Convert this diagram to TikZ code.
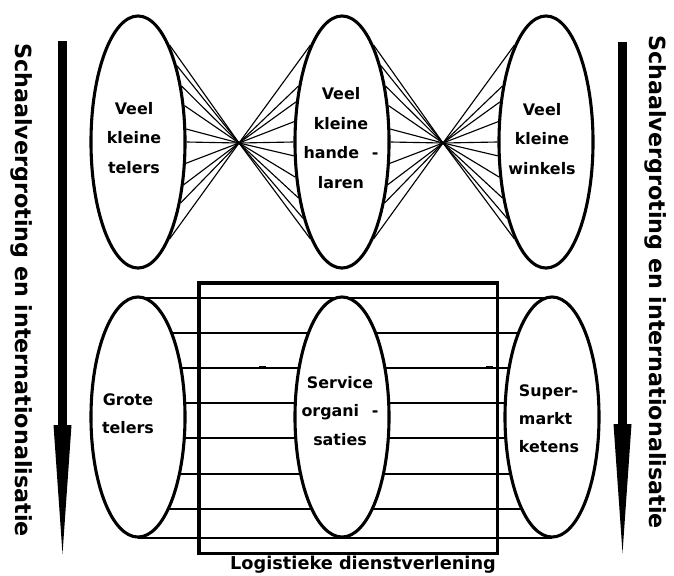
\documentclass[tikz,border=0pt]{standalone}
\usepackage{fontspec}
\setmainfont{DejaVu Sans}
\usepackage{tikz}
\usetikzlibrary{shapes,arrows,arrows.meta,positioning,backgrounds}
\tikzset{>=stealth'}

\begin{document}
\begin{tikzpicture}[x=0.025cm, y=-0.025cm,
                    kring/.style={ellipse, draw, line width=2.2pt, fill=white, inner sep=0pt, minimum width=2.35cm},
                    boven/.style={kring, minimum height=6.3cm},
                    onder/.style={kring, minimum height=6.0cm},
                    tekst/.style={font=\bfseries\fontsize{11.3}{21}\selectfont, align=center, inner sep=0pt},
                    tekstonder/.style={tekst, font=\bfseries\fontsize{11.3}{20}\selectfont},
                    waaier/.style={line width=0.8pt},
                    streep/.style={line width=0.8pt},
                    kader/.style={draw, line width=2.2pt, inner sep=0pt, minimum width=7.45cm, minimum height=6.75cm},
                    pijl/.style={line width=6.4pt, -{Triangle[length=91.7pt, width=12.8pt, line width=0pt]}},
                    zij/.style={font=\bfseries\fontsize{15.8}{18}\selectfont, rotate=-90, inner sep=0pt},
                   ]

\useasboundingbox (0,0) rectangle (674,575);

% bovenste rij
\node[boven] (telers) at (138,142) {};
\node[boven] (handelaren) at (342,142) {};
\node[boven] (winkels) at (546,142) {};

\coordinate (kruisA) at (239,143);
\coordinate (kruisB) at (443,143);

\foreach \a in {72,63,52,38,15,0,-24,-43,-55,-72}{
  \draw[waaier] (kruisA) -- (telers.\a);
  \draw[waaier] (kruisB) -- (handelaren.\a);
}
\foreach \a in {108,128,139,157,180,196,217,232,243,252}{
  \draw[waaier] (kruisA) -- (handelaren.\a);
  \draw[waaier] (kruisB) -- (winkels.\a);
}

\node[tekst] (telersTxt) at (134,138) {Veel\\kleine\\telers};
\node[tekst] (handelarenTxt) at (341,138) {Veel\\kleine\\hande\hspace{9pt}-\\laren};
\node[tekst] (winkelsTxt) at (542,139) {Veel\\kleine\\winkels};

% onderste rij
\node[onder] (grote) at (138,417) {};
\node[onder] (service) at (342,417) {};
\node[onder] (super) at (552,417) {};

\begin{scope}[on background layer]
\foreach \y in {298,333,368,403,438,474,509,538}
  \draw[streep] (grote.center |- 0,\y) -- (super.center |- 0,\y);
\end{scope}
\draw[line width=1.5pt] (259,367) -- (266,367);
\draw[line width=1.5pt] (486,367) -- (493,367);

\node[kader] (dienst) at (348,418) {};
\node[font=\bfseries\fontsize{12.6}{15}\selectfont, inner sep=0pt, anchor=base] (dienstTxt) at (363,569.5) {Logistieke dienstverlening};

\node[tekstonder] (groteTxt) at (128,414) {Grote\\telers};
\node[tekstonder] (serviceTxt) at (340,411) {Service\\organi\hspace{9pt}-\\saties};
\node[tekstonder, align=left] (superTxt) at (549,419) {Super-\\markt\\ketens};

% pijlen en zijteksten
\coordinate (pijlLtop) at (62.5,41);
\coordinate (pijlLeind) at (62.5,554);
\coordinate (pijlRtop) at (622.5,42);
\coordinate (pijlReind) at (622.5,553);
\draw[pijl] (pijlLtop) -- (pijlLeind);
\draw[pijl] (pijlRtop) -- (pijlReind);

\node[zij] (schaalL) at (22,290) {Schaalvergroting en internationalisatie};
\node[zij] (schaalR) at (656,282) {Schaalvergroting en internationalisatie};

\end{tikzpicture}
\end{document}
